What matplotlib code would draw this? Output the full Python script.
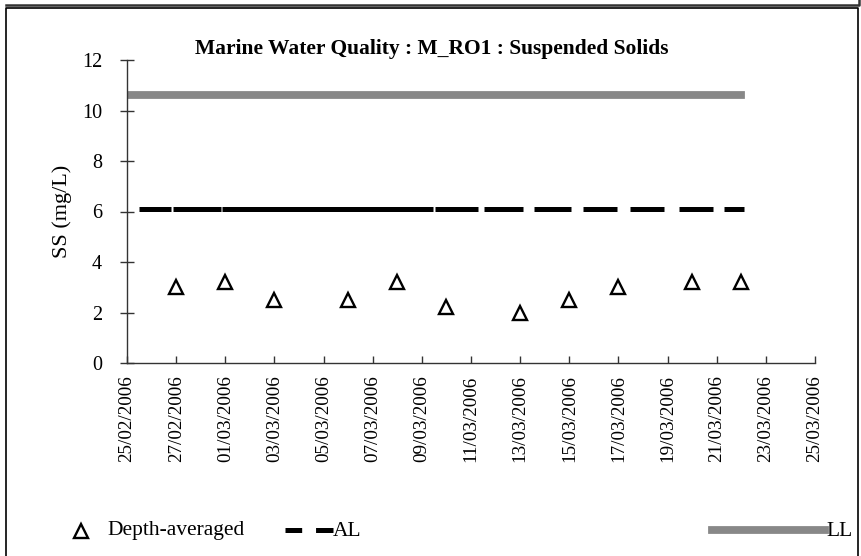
import matplotlib
matplotlib.use('Agg')
import matplotlib.pyplot as plt
import matplotlib.dates as mdates
from matplotlib.lines import Line2D
import pandas as pd

matplotlib.rc('font', family='Liberation Serif', size=13)
matplotlib.rcParams['lines.scale_dashes'] = False

# data
sample_dates = ['2006-02-27', '2006-03-01', '2006-03-03', '2006-03-06', '2006-03-08',
                '2006-03-10', '2006-03-13', '2006-03-15', '2006-03-17', '2006-03-20',
                '2006-03-22']
ss_values = [3.0, 3.2, 2.5, 2.5, 3.2, 2.2, 2.0, 2.5, 3.0, 3.2, 3.2]
al_dates = ['2006-02-25 12:00', '2006-03-22 03:00']
al_value = 6.1
ll_dates = ['2006-02-25', '2006-03-22']
ll_value = 10.6
x_range = ['2006-02-25', '2006-03-25']

W, H = 861, 556
fig = plt.figure(figsize=(W / 100, H / 100), dpi=100)


def fx(x):
    return x / W


def fy(y):
    return 1 - y / H


ax = fig.add_axes([fx(127), fy(363), fx(815) - fx(127), fy(60) - fy(363)])

d = pd.to_datetime(sample_dates)
ax.plot(d, ss_values, linestyle='none', marker='^', ms=9.5, mfc='white', mec='black', mew=1.7,
        zorder=5)

# uneven dash run, as in the original (pixel lengths -> points)
al_dash_px = [32, 2, 48, 1, 211, 2, 43, 6, 39, 11, 37, 12, 34, 13, 34, 15, 34, 11, 30, 30]
al_dash = [v * 0.72 for v in al_dash_px]
ad = pd.to_datetime(al_dates)
ax.plot(ad, [al_value] * 2, color='black', lw=3.6, dash_capstyle='butt',
        linestyle=(0, al_dash))

ld = pd.to_datetime(ll_dates)
ax.plot(ld, [ll_value] * 2, color='#888888', lw=5.6, solid_capstyle='projecting')

ax.set_xlim(pd.to_datetime(x_range[0]), pd.to_datetime(x_range[1]))
ax.set_ylim(0, 12)
ax.set_yticks(range(0, 13, 2))
ax.set_xticks(pd.date_range(x_range[0], x_range[1], freq='2D'))
ax.xaxis.set_major_formatter(mdates.DateFormatter('%d/%m/%Y'))
for lab in ax.get_xticklabels():
    lab.set_rotation(90)

for s in ['top', 'right']:
    ax.spines[s].set_visible(False)
for s in ['left', 'bottom']:
    ax.spines[s].set_color('#333333')
    ax.spines[s].set_linewidth(1.0)
ax.tick_params(axis='y', direction='inout', length=10, width=1, color='#333333', pad=13,
               labelsize=14.5)
ax.tick_params(axis='x', direction='in', length=5, width=1, color='#333333', pad=9,
               labelsize=13.8)

ax.set_ylabel('SS (mg/L)', fontsize=16, labelpad=7)
fig.text(fx(432), fy(49), 'Marine Water Quality : M_RO1 : Suspended Solids',
         ha='center', va='center', fontsize=15.5, fontweight='bold')

# legend drawn by hand
tf = fig.transFigure
fig.add_artist(Line2D([fx(81)], [fy(531)], transform=tf, marker='^', ms=9.5, mfc='white',
                      mec='black', mew=1.7, linestyle='none'))
fig.text(fx(107), fy(531), 'Depth-averaged', fontsize=15.5, va='center')
fig.add_artist(Line2D([fx(285), fx(333)], [fy(530)] * 2, transform=tf, color='black', lw=3.6,
                      linestyle=(0, (12, 10, 14, 0))))
fig.text(fx(333), fy(531), 'AL', fontsize=15.5, va='center')
fig.add_artist(Line2D([fx(712), fx(825)], [fy(530)] * 2, transform=tf, color='#888888', lw=5.6))
fig.text(fx(826), fy(531), 'LL', fontsize=15.5, va='center')

# frames
fig.add_artist(Line2D([fx(6), fx(6), fx(858), fx(858)], [fy(560), fy(7.5), fy(7.5), fy(560)],
                      transform=tf, color='black', lw=1.2))
fig.add_artist(Line2D([fx(6), fx(859), fx(859)], [fy(5), fy(5), fy(-2)],
                      transform=tf, color='#333333', lw=1.8))

plt.savefig('out.png', dpi=100)
